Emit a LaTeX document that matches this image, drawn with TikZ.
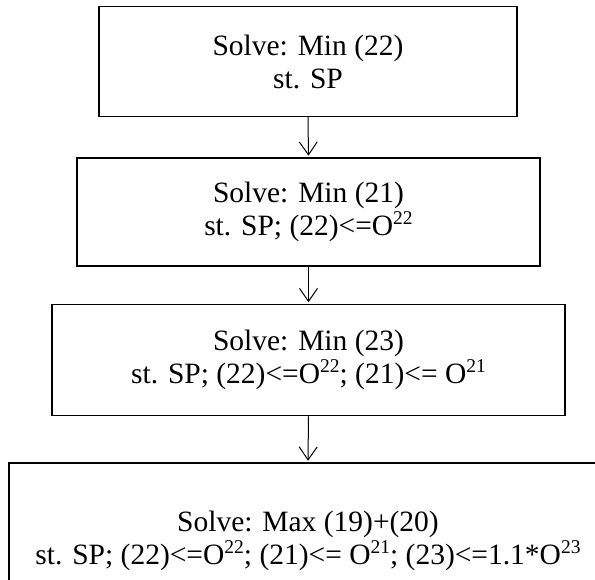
\documentclass[tikz,border=0pt]{standalone}
\usepackage{fontspec}
\setmainfont{Liberation Serif}
\usetikzlibrary{arrows.meta}
% word-processor style superscript: two thirds size, raised a third of an em
\newcommand{\wsup}[1]{\raisebox{0.36em}{\fontsize{19.5}{19.5}\selectfont #1}}
\begin{document}
\begin{tikzpicture}[x=1pt,y=-1pt,
  stepbox/.style={draw, line width=1.5pt, rectangle, inner sep=0pt,
    align=center, font=\fontsize{29.5}{33}\selectfont},
  flow/.style={line width=1pt, shorten >=1.5pt,
    -{Straight Barb[length=13pt,width=18pt,line width=1pt]}}]
\path[use as bounding box] (0,0) rectangle (595,580);
\clip (0,0) rectangle (595,580);

% Sequence of optimisation steps
\node[stepbox, minimum width=418pt, minimum height=110pt] (b1) at (308,61.5)
  {Solve: Min (22)\\st. SP};
\node[stepbox, minimum width=463pt, minimum height=108pt] (b2) at (308.5,212)
  {Solve: Min (21)\\st. SP; (22)<=O\wsup{22}};
\node[stepbox, minimum width=513pt, minimum height=111pt] (b3) at (308.5,360)
  {Solve: Min (23)\\st. SP; (22)<=O\wsup{22}; (21)<= O\wsup{21}};
\node[stepbox, minimum width=598pt, minimum height=156pt] (b4) at (308,541)
  {Solve: Max (19)+(20)\\st. SP; (22)<=O\wsup{22}; (21)<= O\wsup{21}; (23)<=1.1*O\wsup{23}};

% Connectors
\draw[flow] (b1.south) -- (b2.north);
\draw[flow] (b2.south) -- (b3.north);
\draw[flow] (b3.south) -- (b4.north);
\end{tikzpicture}
\end{document}
